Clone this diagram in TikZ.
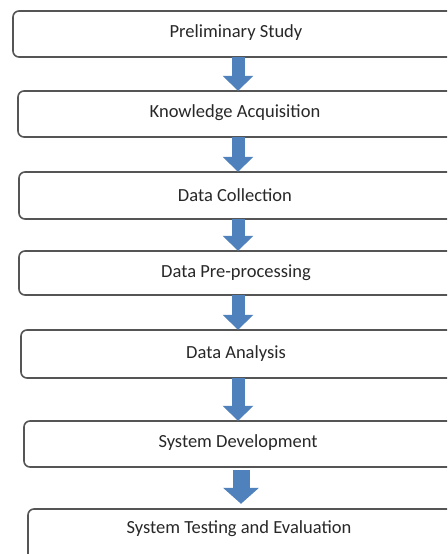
\documentclass[tikz,border=0pt]{standalone}
\usepackage{fontspec}
\setmainfont{Carlito}
\usetikzlibrary{arrows.meta}
\definecolor{flowblue}{RGB}{79,129,189}
\definecolor{boxline}{RGB}{85,85,85}
\definecolor{labeltext}{RGB}{40,40,40}
\begin{document}
\begin{tikzpicture}[x=1pt,y=-1pt,
  stagebox/.style={draw=boxline, line width=1.6pt, rounded corners=6pt, fill=white},
  stagelabel/.style={text=labeltext, font=\fontsize{18.5}{22}\selectfont, anchor=center},
  flowarrow/.style={draw=flowblue, line width=13pt,
    -{Triangle[width=30pt,length=15pt]}},
  bigflowarrow/.style={draw=flowblue, line width=17pt,
    -{Triangle[width=35pt,length=16pt]}}]
  \useasboundingbox (0,0) rectangle (447,554);
  \clip (0,0) rectangle (447,554);
  \fill[white] (0,0) rectangle (447,554);

  % stage boxes (they run on past the right edge)
  \draw[stagebox] (13,11) rectangle (462,57);
  \draw[stagebox] (18,91) rectangle (462,137);
  \draw[stagebox] (19,172) rectangle (462,219);
  \draw[stagebox] (19,251) rectangle (462,295);
  \draw[stagebox] (21,330) rectangle (462,378);
  \draw[stagebox] (24,421) rectangle (462,467);
  \draw[stagebox] (28,509) rectangle (462,580);

  % invisible anchors for the boxes
  \coordinate (ax) at (238,0);
  \node[inner sep=0, minimum width=449pt, minimum height=46pt] (b1) at (237.5,34) {};
  \node[inner sep=0, minimum width=444pt, minimum height=46pt] (b2) at (240,114) {};
  \node[inner sep=0, minimum width=443pt, minimum height=47pt] (b3) at (240.5,195.5) {};
  \node[inner sep=0, minimum width=443pt, minimum height=44pt] (b4) at (240.5,273) {};
  \node[inner sep=0, minimum width=441pt, minimum height=48pt] (b5) at (241.5,354) {};
  \node[inner sep=0, minimum width=438pt, minimum height=46pt] (b6) at (243,444) {};
  \node[inner sep=0, minimum width=434pt, minimum height=71pt] (b7) at (245,544.5) {};

  % labels
  \node[stagelabel] (t1) at (236,33) {Preliminary Study};
  \node[stagelabel] (t2) at (235,113) {Knowledge Acquisition};
  \node[stagelabel] (t3) at (235,195) {Data Collection};
  \node[stagelabel] (t4) at (236,273) {Data Pre-processing};
  \node[stagelabel] (t5) at (236,354) {Data Analysis};
  \node[stagelabel] (t6) at (238,443) {System Development};
  \node[stagelabel] (t7) at (239,529) {System Testing and Evaluation};

  % block arrows between stages
  \draw[flowarrow] (b1.south -| ax) -- (b2.north -| ax);
  \draw[flowarrow] (b2.south -| ax) -- (b3.north -| ax);
  \draw[flowarrow] (b3.south -| ax) -- (b4.north -| ax);
  \draw[flowarrow] (b4.south -| ax) -- (b5.north -| ax);
  \draw[flowarrow] (b5.south -| ax) -- (b6.north -| ax);
  \draw[bigflowarrow, shorten <=3pt, shorten >=5pt] ([xshift=3pt]b6.south -| ax) -- ([xshift=3pt]b7.north -| ax);
\end{tikzpicture}
\end{document}
